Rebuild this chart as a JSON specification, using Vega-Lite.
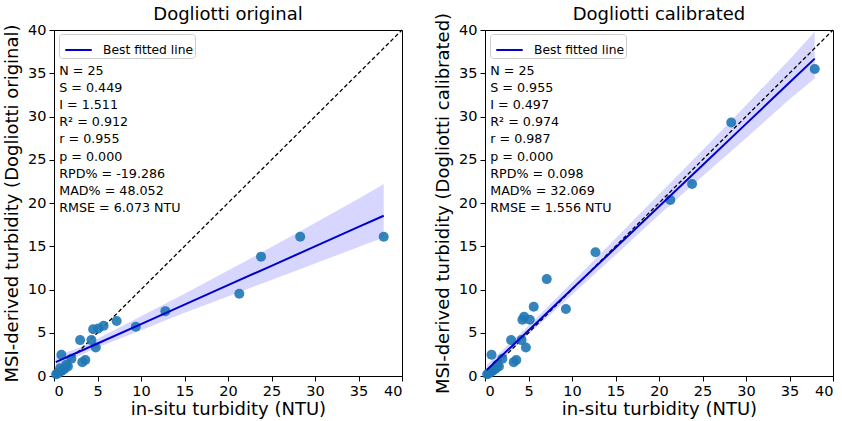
{
  "$schema": "https://vega.github.io/schema/vega-lite/v6.json",
  "background": "white",
  "padding": {"left": 3, "top": 5, "right": 0, "bottom": 2},
  "config": {
    "font": "DejaVu Sans",
    "view": {"stroke": "black", "strokeWidth": 1},
    "axis": {"grid": false, "domainColor": "black", "tickColor": "black", "labelColor": "black", "titleColor": "black", "labelFontSize": 14.5, "titleFontSize": 18, "titleFontWeight": "normal", "tickSize": 5, "labelPadding": 3, "titlePadding": 6},
    "axisX": {"titlePadding": 3},
    "title": {"fontSize": 18, "fontWeight": "normal", "color": "black"},
    "legend": {"orient": "none", "legendX": 5, "legendY": 4, "strokeColor": "#cccccc", "fillColor": "white", "padding": 1.5, "cornerRadius": 3, "labelFontSize": 12.3, "labelColor": "black", "labelOffset": 10, "symbolOffset": 3.5, "symbolType": "stroke", "symbolStrokeWidth": 2, "symbolSize": 700, "title": null}
  },
  "datasets": {
    "orig": [
      {"x": 37.9, "y": 16.1}, {"x": 28.3, "y": 16.1}, {"x": 23.8, "y": 13.8}, {"x": 21.3, "y": 9.5},
      {"x": 12.8, "y": 7.5}, {"x": 9.4, "y": 5.7}, {"x": 7.2, "y": 6.35}, {"x": 5.7, "y": 5.8},
      {"x": 5.1, "y": 5.5}, {"x": 4.5, "y": 5.4}, {"x": 4.3, "y": 4.15}, {"x": 4.8, "y": 3.3},
      {"x": 3.0, "y": 4.15}, {"x": 3.6, "y": 1.85}, {"x": 3.25, "y": 1.6}, {"x": 0.85, "y": 2.45},
      {"x": 2.0, "y": 2.0}, {"x": 1.6, "y": 1.1}, {"x": 1.2, "y": 0.8}, {"x": 0.9, "y": 0.6},
      {"x": 0.6, "y": 0.4}, {"x": 0.4, "y": 0.3}, {"x": 0.25, "y": 0.2}, {"x": 1.4, "y": 1.3},
      {"x": 0.7, "y": 0.9}
    ],
    "cal": [
      {"x": 37.9, "y": 35.5}, {"x": 28.3, "y": 29.3}, {"x": 23.8, "y": 22.2}, {"x": 21.3, "y": 20.35},
      {"x": 12.7, "y": 14.3}, {"x": 9.3, "y": 7.75}, {"x": 7.1, "y": 11.2}, {"x": 5.6, "y": 8.0},
      {"x": 5.15, "y": 6.5}, {"x": 4.5, "y": 6.85}, {"x": 4.3, "y": 6.5}, {"x": 4.7, "y": 3.3},
      {"x": 4.2, "y": 4.15}, {"x": 3.0, "y": 4.15}, {"x": 3.6, "y": 1.85}, {"x": 3.3, "y": 1.6},
      {"x": 0.75, "y": 2.45}, {"x": 2.0, "y": 2.0}, {"x": 1.6, "y": 1.1}, {"x": 1.2, "y": 0.8},
      {"x": 0.9, "y": 0.6}, {"x": 0.6, "y": 0.4}, {"x": 0.4, "y": 0.3}, {"x": 0.25, "y": 0.2},
      {"x": 1.4, "y": 1.3}
    ],
    "band_orig": [
      {"x": 0.2, "fit": 1.6, "lo": 0.9, "hi": 2.3},
      {"x": 3, "fit": 2.86, "lo": 2.4, "hi": 3.3},
      {"x": 5, "fit": 3.76, "lo": 3.3, "hi": 4.3},
      {"x": 10, "fit": 6.0, "lo": 5.3, "hi": 6.9},
      {"x": 15, "fit": 8.25, "lo": 7.3, "hi": 9.5},
      {"x": 20, "fit": 10.5, "lo": 9.2, "hi": 12.2},
      {"x": 25, "fit": 12.74, "lo": 11.1, "hi": 14.9},
      {"x": 30, "fit": 14.98, "lo": 13.0, "hi": 17.7},
      {"x": 35, "fit": 17.23, "lo": 14.9, "hi": 20.5},
      {"x": 37.9, "fit": 18.53, "lo": 16.0, "hi": 22.2}
    ],
    "band_cal": [
      {"x": 0.2, "fit": 0.69, "lo": 0.2, "hi": 1.3},
      {"x": 3, "fit": 3.36, "lo": 2.9, "hi": 3.9},
      {"x": 5, "fit": 5.27, "lo": 4.8, "hi": 5.8},
      {"x": 10, "fit": 10.05, "lo": 9.4, "hi": 10.8},
      {"x": 15, "fit": 14.82, "lo": 14.0, "hi": 15.9},
      {"x": 20, "fit": 19.6, "lo": 18.6, "hi": 21.0},
      {"x": 25, "fit": 24.37, "lo": 23.1, "hi": 26.1},
      {"x": 30, "fit": 29.15, "lo": 27.5, "hi": 31.3},
      {"x": 35, "fit": 33.92, "lo": 32.0, "hi": 36.6},
      {"x": 37.9, "fit": 36.69, "lo": 34.4, "hi": 39.8}
    ],
    "diag": [{"x": 0, "y": 0}, {"x": 40, "y": 40}],
    "stats_orig": [{"t": "N = 25\nS = 0.449\nI = 1.511\nR² = 0.912\nr = 0.955\np = 0.000\nRPD% = -19.286\nMAD% = 48.052\nRMSE = 6.073 NTU"}],
    "stats_cal": [{"t": "N = 25\nS = 0.955\nI = 0.497\nR² = 0.974\nr = 0.987\np = 0.000\nRPD% = 0.098\nMAD% = 32.069\nRMSE = 1.556 NTU"}]
  },
  "hconcat": [
    {
      "width": 348, "height": 346,
      "title": {"text": "Dogliotti original", "offset": -2},
      "layer": [
        {"data": {"name": "band_orig"}, "mark": {"type": "area", "color": "#0000ff", "opacity": 0.16},
         "encoding": {
           "x": {"field": "x", "type": "quantitative", "scale": {"domain": [0, 40], "nice": false}, "axis": {"values": [0,5,10,15,20,25,30,35,40], "title": "in-situ turbidity (NTU)"}},
           "y": {"field": "lo", "type": "quantitative", "scale": {"domain": [0, 40], "nice": false}, "axis": {"values": [0,5,10,15,20,25,30,35,40], "title": "MSI-derived turbidity (Dogliotti original)"}},
           "y2": {"field": "hi"}}},
        {"data": {"name": "diag"}, "mark": {"type": "line", "color": "black", "strokeDash": [4, 2.5], "strokeWidth": 1.3},
         "encoding": {"x": {"field": "x", "type": "quantitative"}, "y": {"field": "y", "type": "quantitative"}}},
        {"data": {"name": "orig"}, "mark": {"type": "circle", "color": "#1f77b4", "opacity": 0.9, "size": 100},
         "encoding": {"x": {"field": "x", "type": "quantitative"}, "y": {"field": "y", "type": "quantitative"}}},
        {"data": {"name": "band_orig"}, "mark": {"type": "line", "strokeWidth": 2},
         "encoding": {"x": {"field": "x", "type": "quantitative"}, "y": {"field": "fit", "type": "quantitative"},
           "color": {"datum": "Best fitted line", "scale": {"domain": ["Best fitted line"], "range": ["#0000cc"]}}}},
        {"data": {"name": "stats_orig"}, "mark": {"type": "text", "align": "left", "baseline": "top", "fontSize": 12.7, "lineBreak": "\n", "lineHeight": 17.1, "color": "black"},
         "encoding": {"x": {"datum": 0.6}, "y": {"datum": 35.95}, "text": {"field": "t"}}}
      ],
      "resolve": {"scale": {"color": "independent"}}
    },
    {
      "width": 348, "height": 346,
      "title": {"text": "Dogliotti calibrated", "offset": -12},
      "layer": [
        {"data": {"name": "band_cal"}, "mark": {"type": "area", "color": "#0000ff", "opacity": 0.16},
         "encoding": {
           "x": {"field": "x", "type": "quantitative", "scale": {"domain": [0, 40], "nice": false}, "axis": {"values": [0,5,10,15,20,25,30,35,40], "title": "in-situ turbidity (NTU)"}},
           "y": {"field": "lo", "type": "quantitative", "scale": {"domain": [0, 40], "nice": false}, "axis": {"values": [0,5,10,15,20,25,30,35,40], "title": "MSI-derived turbidity (Dogliotti calibrated)"}},
           "y2": {"field": "hi"}}},
        {"data": {"name": "diag"}, "mark": {"type": "line", "color": "black", "strokeDash": [4, 2.5], "strokeWidth": 1.3},
         "encoding": {"x": {"field": "x", "type": "quantitative"}, "y": {"field": "y", "type": "quantitative"}}},
        {"data": {"name": "cal"}, "mark": {"type": "circle", "color": "#1f77b4", "opacity": 0.9, "size": 100},
         "encoding": {"x": {"field": "x", "type": "quantitative"}, "y": {"field": "y", "type": "quantitative"}}},
        {"data": {"name": "band_cal"}, "mark": {"type": "line", "strokeWidth": 2},
         "encoding": {"x": {"field": "x", "type": "quantitative"}, "y": {"field": "fit", "type": "quantitative"},
           "color": {"datum": "Best fitted line", "scale": {"domain": ["Best fitted line"], "range": ["#0000cc"]}}}},
        {"data": {"name": "stats_cal"}, "mark": {"type": "text", "align": "left", "baseline": "top", "fontSize": 12.7, "lineBreak": "\n", "lineHeight": 17.1, "color": "black"},
         "encoding": {"x": {"datum": 0.6}, "y": {"datum": 35.95}, "text": {"field": "t"}}}
      ],
      "resolve": {"scale": {"color": "independent"}}
    }
  ],
  "spacing": 28,
  "resolve": {"scale": {"color": "independent"}, "legend": {"color": "independent"}}
}
